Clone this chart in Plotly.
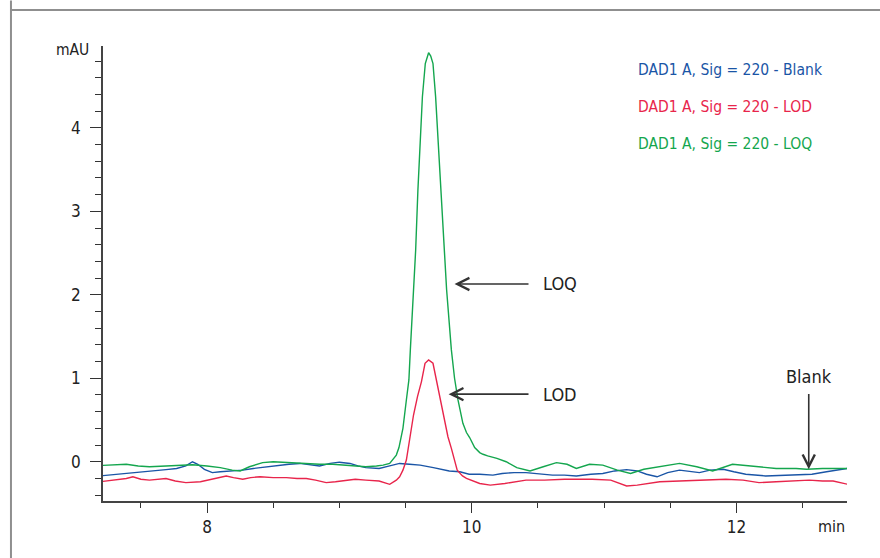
import plotly.graph_objects as go

# Retention time (min) and absorbance (mAU) for each injection
series_names = ["DAD1 A, Sig = 220 - Blank", "DAD1 A, Sig = 220 - LOD", "DAD1 A, Sig = 220 - LOQ"]
series_colors = ["#1a55a6", "#e8254b", "#14a64e"]

blank_t = [7.19, 7.30, 7.44, 7.55, 7.69, 7.77, 7.84, 7.89, 7.93, 7.98, 8.04, 8.10, 8.19, 8.27,
           8.35, 8.45, 8.55, 8.62, 8.70, 8.78, 8.85, 8.93, 9.00, 9.08, 9.14, 9.20, 9.30, 9.38,
           9.455, 9.53, 9.61, 9.71, 9.83, 9.91, 9.98, 10.06, 10.16, 10.23, 10.32, 10.41, 10.50,
           10.61, 10.70, 10.79, 10.90, 10.99, 11.08, 11.17, 11.25, 11.32, 11.40, 11.48, 11.57,
           11.65, 11.72, 11.80, 11.90, 11.98, 12.07, 12.22, 12.35, 12.47, 12.57, 12.68, 12.76, 12.84]
blank_mau = [-0.17, -0.155, -0.13, -0.12, -0.094, -0.08, -0.05, 0.0, -0.03, -0.09, -0.13, -0.12,
             -0.11, -0.10, -0.08, -0.06, -0.036, -0.03, -0.02, -0.04, -0.05, -0.02, -0.005, -0.02,
             -0.05, -0.07, -0.08, -0.05, -0.02, -0.03, -0.04, -0.07, -0.11, -0.12, -0.15, -0.15,
             -0.16, -0.14, -0.13, -0.13, -0.14, -0.16, -0.16, -0.17, -0.15, -0.14, -0.11, -0.094,
             -0.11, -0.15, -0.18, -0.13, -0.10, -0.12, -0.13, -0.10, -0.09, -0.12, -0.15, -0.17,
             -0.16, -0.15, -0.15, -0.12, -0.10, -0.08]

lod_t = [7.19, 7.30, 7.39, 7.44, 7.50, 7.565, 7.62, 7.69, 7.76, 7.84, 7.95, 8.05, 8.145, 8.20,
         8.27, 8.33, 8.40, 8.50, 8.60, 8.68, 8.75, 8.82, 8.90, 8.97, 9.05, 9.12, 9.20, 9.30, 9.38,
         9.43, 9.455, 9.48, 9.506, 9.518, 9.53, 9.56, 9.59, 9.62, 9.647, 9.674, 9.707, 9.735,
         9.76, 9.79, 9.82, 9.846, 9.87, 9.89, 9.93, 9.96, 10.06, 10.14, 10.25, 10.41, 10.55,
         10.70, 10.91, 11.05, 11.17, 11.25, 11.42, 11.60, 11.75, 11.92, 12.05, 12.17, 12.30,
         12.42, 12.55, 12.65, 12.73, 12.84]
lod_mau = [-0.24, -0.22, -0.20, -0.18, -0.21, -0.22, -0.21, -0.20, -0.23, -0.25, -0.24, -0.20,
           -0.17, -0.19, -0.21, -0.19, -0.18, -0.19, -0.19, -0.20, -0.20, -0.22, -0.25, -0.24,
           -0.22, -0.21, -0.22, -0.23, -0.27, -0.22, -0.18, -0.10, 0.02, 0.14, 0.22, 0.56, 0.78,
           0.96, 1.18, 1.22, 1.18, 0.96, 0.76, 0.55, 0.30, 0.16, 0.02, -0.10, -0.17, -0.20,
           -0.26, -0.28, -0.26, -0.22, -0.22, -0.21, -0.21, -0.22, -0.29, -0.28, -0.24, -0.23,
           -0.22, -0.21, -0.22, -0.25, -0.24, -0.23, -0.22, -0.23, -0.23, -0.27]

loq_t = [7.19, 7.30, 7.39, 7.48, 7.565, 7.69, 7.80, 7.89, 8.00, 8.10, 8.19, 8.25, 8.32, 8.42,
         8.50, 8.60, 8.75, 8.85, 8.95, 9.08, 9.15, 9.20, 9.28, 9.33, 9.38, 9.40, 9.43, 9.45, 9.47,
         9.48, 9.506, 9.525, 9.536, 9.556, 9.576, 9.593, 9.627, 9.649, 9.674, 9.69, 9.707, 9.727,
         9.765, 9.791, 9.81, 9.846, 9.87, 9.896, 9.933, 9.96, 9.984, 10.022, 10.06, 10.085,
         10.12, 10.19, 10.26, 10.34, 10.44, 10.54, 10.64, 10.72, 10.79, 10.89, 10.99, 11.10,
         11.20, 11.30, 11.42, 11.57, 11.70, 11.82, 11.97, 12.10, 12.30, 12.45, 12.53, 12.65,
         12.75, 12.84]
loq_mau = [-0.045, -0.04, -0.03, -0.05, -0.06, -0.05, -0.045, -0.035, -0.05, -0.07, -0.10, -0.11,
           -0.06, -0.01, 0.0, -0.01, -0.02, -0.03, -0.03, -0.05, -0.06, -0.06, -0.05, -0.04, -0.02,
           0.02, 0.08, 0.17, 0.30, 0.40, 0.74, 0.98, 1.34, 1.95, 2.53, 3.25, 4.37, 4.77, 4.90,
           4.86, 4.77, 4.37, 3.25, 2.53, 2.06, 1.34, 1.00, 0.74, 0.46, 0.35, 0.29, 0.17, 0.11,
           0.09, 0.07, 0.04, 0.00, -0.07, -0.11, -0.06, -0.01, -0.03, -0.08, -0.03, -0.04, -0.10,
           -0.14, -0.09, -0.06, -0.02, -0.06, -0.11, -0.03, -0.05, -0.08, -0.08, -0.09, -0.08,
           -0.08, -0.08]

x_ticks = [8, 10, 12]
y_ticks = [0, 1, 2, 3, 4]

FONT = "Liberation Sans Narrow, DejaVu Sans Condensed, Arial Narrow, sans-serif"
INK = "#222222"

fig = go.Figure()
for t, v, name, color in zip([blank_t, lod_t, loq_t], [blank_mau, lod_mau, loq_mau],
                             series_names, series_colors):
    fig.add_trace(go.Scatter(x=t, y=v, mode="lines", name=name,
                             line=dict(color=color, width=1.4), showlegend=False))

axis_common = dict(showgrid=False, zeroline=False, showline=True, linecolor="#444444",
                   linewidth=1.5, ticks="outside", tickcolor="#333333", tickwidth=1.3,
                   tickfont=dict(family=FONT, size=17, color=INK))

fig.update_xaxes(range=[7.214, 12.835], tickvals=x_ticks, ticklen=10,
                 minor=dict(dtick=0.5, tick0=0, ticklen=5, tickcolor="#333333", ticks="outside"),
                 **axis_common)
fig.update_yaxes(range=[-0.47, 4.98], tickvals=y_ticks, ticklen=11, ticklabelstandoff=6,
                 minor=dict(dtick=0.2, tick0=0, ticklen=6, tickcolor="#333333", ticks="outside"),
                 **axis_common)

annotations = []
# series captions in the upper right
for i, (name, color) in enumerate(zip(series_names, series_colors)):
    annotations.append(dict(xref="paper", yref="paper", x=0.716, y=0.947 - 0.0815 * i,
                            xanchor="left", yanchor="middle", showarrow=False, text=name,
                            font=dict(family=FONT, size=15.5, color=color)))
# axis unit captions
annotations.append(dict(xref="paper", yref="paper", x=-0.016, y=0.992, xanchor="right",
                        yanchor="middle", showarrow=False, text="mAU",
                        font=dict(family=FONT, size=15.5, color=INK)))
annotations.append(dict(xref="paper", yref="paper", x=1.0, y=-0.055, xanchor="right",
                        yanchor="middle", showarrow=False, text="min",
                        font=dict(family=FONT, size=16, color=INK)))

arrow_style = dict(showarrow=True, arrowhead=5, arrowsize=1.5, arrowwidth=1.6,
                   arrowcolor="#333333", axref="x", ayref="y", text="")
label_font = dict(family=FONT, size=18, color=INK)
# LOQ / LOD callouts pointing at the peak flanks
annotations.append(dict(x=9.87, y=2.13, ax=10.44, ay=2.13, **arrow_style))
annotations.append(dict(x=10.52, y=2.13, text="LOQ", showarrow=False, xanchor="left",
                        yanchor="middle", font=label_font))
annotations.append(dict(x=9.825, y=0.81, ax=10.44, ay=0.81, **arrow_style))
annotations.append(dict(x=10.52, y=0.81, text="LOD", showarrow=False, xanchor="left",
                        yanchor="middle", font=label_font))
# Blank callout pointing down at the baseline
annotations.append(dict(x=12.546, y=-0.09, ax=12.546, ay=0.83, **arrow_style))
annotations.append(dict(x=12.546, y=1.02, text="Blank", showarrow=False, xanchor="center",
                        yanchor="middle", font=label_font))

# page frame (left and top edges)
shapes = [
    dict(type="line", xref="paper", yref="paper", x0=-0.1237, x1=-0.1237, y0=1.1, y1=-0.2,
         line=dict(color="#8f8f8f", width=2)),
    dict(type="line", xref="paper", yref="paper", x0=-0.1237, x1=1.1, y0=1.079, y1=1.079,
         line=dict(color="#8f8f8f", width=2)),
]

fig.update_layout(width=880, height=558, margin=dict(l=103, r=33, t=46, b=57),
                  paper_bgcolor="white", plot_bgcolor="white",
                  annotations=annotations, shapes=shapes)

fig.write_html("out.html")
